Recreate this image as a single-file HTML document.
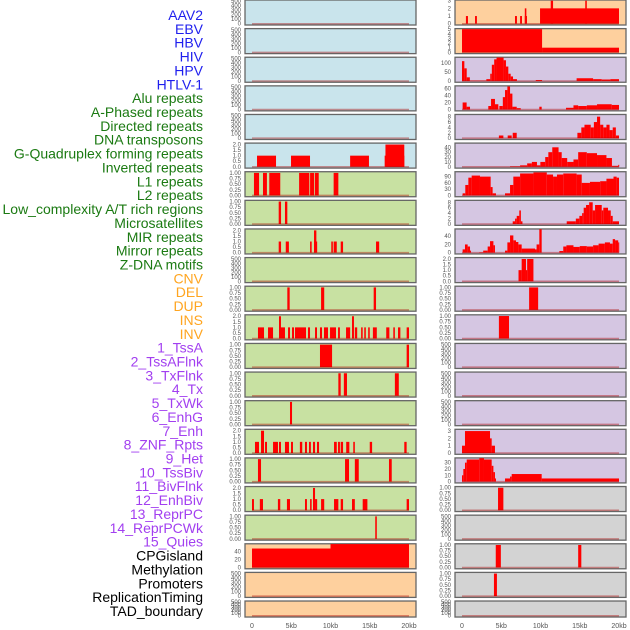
<!DOCTYPE html>
<html><head><meta charset="utf-8"><style>
html,body{margin:0;padding:0;background:#fff;}
svg{display:block;font-family:"Liberation Sans",sans-serif;}
</style></head><body>
<svg id="chart" width="630" height="630" viewBox="0 0 630 630" xmlns="http://www.w3.org/2000/svg"></svg>
<script>
const labels=["AAV2","EBV","HBV","HIV","HPV","HTLV-1","Alu repeats","A-Phased repeats","Directed repeats","DNA transposons","G-Quadruplex forming repeats","Inverted repeats","L1 repeats","L2 repeats","Low_complexity A/T rich regions","Microsatellites","MIR repeats","Mirror repeats","Z-DNA motifs","CNV","DEL","DUP","INS","INV","1_TssA","2_TssAFlnk","3_TxFlnk","4_Tx","5_TxWk","6_EnhG","7_Enh","8_ZNF_Rpts","9_Het","10_TssBiv","11_BivFlnk","12_EnhBiv","13_ReprPC","14_ReprPCWk","15_Quies","CPGisland","Methylation","Promoters","ReplicationTiming","TAD_boundary"];
const labelGroups=[6,13,5,15,5];
const groupColors=["#1f1fee","#1b7a12","#ffa520","#a23ff0","#000000"];
const xTicks=[0,5,10,15,20];
const xTickLabels=["0","5kb","10kb","15kb","20kb"];
const TK500=["0","100","200","300","400","500"];
const TK1=["0.00","0.25","0.50","0.75","1.00"];
const TK2=["0.0","0.5","1.0","1.5","2.0"];
// segments [startKb,endKb,value]
const segL5=[[0.64,3.06,1],[4.97,7.39,1],[12.5,14.9,1],[16.9,19.4,1],[17.0,19.4,2]];
const segL6=[[0.25,0.9,1],[1.4,1.9,1],[2.2,3.6,1],[6.0,7.3,1],[7.4,7.9,1],[8.0,8.5,1],[10.4,11.0,1]];
const segL7=[[3.4,3.7,1],[4.2,4.5,1]];
const segL8=[[3.4,3.7,1],[4.3,4.7,1],[7.4,7.6,1],[7.9,8.3,1],[7.9,8.2,2],[10.1,10.3,1],[10.4,10.8,1],[11.3,11.6,1],[15.8,16.2,1]];
const segL10=[[4.5,4.8,1],[8.8,9.2,1],[15.5,15.8,1]];
const segL11=[[0.76,1.53,1],[2.04,2.68,1],[3.44,4.2,1],[3.44,3.69,2],[4.59,4.84,1],[5.1,5.35,1],[5.48,6.88,1],[7.13,7.39,1],[8.03,8.28,1],[8.66,8.92,1],[9.17,9.68,1],[9.94,10.7,1],[10.96,11.2,1],[11.98,12.5,1],[12.74,12.99,2],[13.1,13.4,1],[13.9,14.1,1],[14.3,14.5,1],[14.8,15.0,1],[15.4,15.9,1],[17.1,17.5,1],[18.0,18.2,1],[18.6,18.9,1],[19.7,20,1]];
const segL12=[[8.66,10.2,1],[19.7,20,1]];
const segL13=[[11.0,11.3,1],[11.7,12.1,1],[18.2,18.7,1]];
const segL14=[[4.84,5.1,1]];
const segL15=[[0.38,0.89,1],[1.15,1.53,2],[1.66,1.91,1],[2.68,3.31,1],[3.44,3.69,1],[4.2,4.71,1],[4.97,5.22,1],[6.1,6.4,1],[6.75,7.0,1],[7.26,7.5,1],[7.77,8.03,1],[8.28,8.54,1],[10.45,10.8,1],[10.96,11.2,1],[11.3,11.6,1],[12.0,12.4,1],[12.9,13.1,1],[15.0,15.3,1],[19.4,19.7,1]];
const segL16=[[0.76,1.15,1],[11.85,12.36,1],[13.1,13.6,1],[17.45,17.8,1]];
const segL17=[[0,0.25,1],[1.0,1.4,1],[3.3,3.6,1],[4.45,4.84,1],[6.75,7.0,1],[7.4,7.6,1],[7.77,8.03,2],[8.03,8.3,1],[8.8,9.2,1],[10.45,11.0,1],[11.3,11.6,1],[12.74,13.1,1],[14.1,14.7,1],[19.7,20,1]];
const segL18=[[15.7,15.9,1]];
const segL19=[[0,10,47],[10,20,58]];
const segR0=[[0.5,0.76,1],[1.66,1.9,1],[6.75,7.0,1],[7.4,7.64,1],[8.0,8.28,1],[8.0,8.2,2],[9.94,20,2],[11.3,11.6,3],[15.7,15.9,3]];
const segR1=[[0,10.2,5],[10.2,20,1]];
const segR2=[[0,0.3,110],[0.3,0.6,70],[0.6,1.0,20],[1.0,3.1,2],[3.1,3.6,10],[3.6,3.8,40],[3.8,4.1,90],[4.1,4.4,120],[4.4,5.3,130],[5.3,5.6,115],[5.6,5.9,80],[5.9,6.2,40],[6.2,6.5,25],[6.5,7.0,10],[9.4,10.2,5],[14.6,16.7,15],[16.7,17.8,10],[17.8,18.9,8],[18.9,20,10]];
const segR3=[[0.08,0.59,20],[0.59,1.02,8],[3.35,3.7,10],[3.7,4.2,30],[4.2,4.63,15],[4.76,5.2,10],[5.2,5.48,35],[5.48,5.78,55],[5.78,6.12,65],[6.12,6.42,45],[6.42,6.97,8],[6.97,7.48,4],[9.85,10.15,8],[13.25,14.2,5],[14.2,14.8,12],[14.8,15.9,10],[15.9,17.2,12],[17.2,19.07,15],[19.07,20,13]];
const segR4=[[4.7,5.27,1],[5.82,6.33,1],[6.46,6.97,2],[14.7,15.2,2],[15.2,15.6,4],[15.6,16.4,5],[16.4,16.8,4],[16.8,17.2,6],[17.2,17.6,8],[17.6,18.0,5],[18.0,18.4,4],[18.4,18.8,5],[18.8,19.2,3],[19.2,19.6,4],[19.6,20,1]];
const segR5=[[6.12,7.4,1],[7.4,8.3,3],[8.3,8.9,7],[8.9,9.55,10],[9.55,9.98,3],[9.98,10.6,10],[10.6,11.0,20],[11.0,11.5,30],[11.5,12.3,40],[12.3,12.7,30],[12.7,13.4,18],[13.4,14.2,10],[14.2,14.8,15],[14.8,15.9,30],[15.9,17.2,28],[17.2,18.4,24],[18.4,19.1,18],[19.1,19.9,2],[19.9,20,4]];
const segR6=[[0.08,0.42,10],[0.42,0.81,50],[0.81,1.23,85],[1.23,2.29,95],[2.29,3.65,90],[3.65,3.9,40],[3.9,4.33,10],[5.48,6.12,10],[6.12,6.54,50],[6.54,7.4,90],[7.4,9.1,105],[9.1,10.8,110],[10.8,11.6,100],[11.6,12.1,90],[12.1,12.9,100],[12.9,14.6,105],[14.6,15.25,100],[15.25,16.3,60],[16.3,17.6,65],[17.6,18.4,68],[18.4,19.3,80],[19.3,19.7,90],[19.7,20,85]];
const segR7=[[6.46,6.76,1],[6.76,6.97,2],[6.97,7.3,3],[7.3,7.5,5],[7.5,7.7,1],[13.34,14.5,1],[14.5,14.95,2],[14.95,15.3,3],[15.3,15.5,4],[15.5,15.8,6],[15.8,16.2,7],[16.2,16.65,8],[16.65,16.95,5],[16.95,17.8,7],[17.8,18.0,5],[18.0,18.6,6],[18.6,18.95,5],[18.95,19.2,3],[19.2,20,1]];
const segR8=[[0.08,0.38,8],[0.38,0.72,20],[0.72,1.02,15],[1.02,1.15,5],[2.2,2.7,1],[2.7,3.27,5],[3.27,3.57,15],[3.57,4.0,28],[4.0,4.2,18],[5.48,5.78,5],[5.78,6.12,25],[6.12,6.54,42],[6.54,6.88,30],[6.88,7.18,26],[7.18,7.6,20],[7.6,9.3,10],[9.3,9.5,8],[9.5,9.85,20],[9.85,10.15,57],[12.4,12.9,4],[12.9,13.3,15],[13.3,14.2,18],[14.2,15.0,14],[15.0,15.9,16],[15.9,16.7,15],[16.7,17.4,18],[17.4,18.2,22],[18.2,18.85,25],[18.85,19.2,22],[19.2,19.5,33],[19.5,19.9,30],[19.9,20,25]];
const segR9=[[7.2,7.6,1],[7.6,8.15,2],[8.15,8.3,1],[8.3,9.1,2]];
const segR10=[[8.55,9.7,1]];
const segR11=[[4.7,5.99,1]];
const segR15=[[0,0.38,1],[0.38,3.57,3],[3.57,3.78,2],[3.78,4.2,1]];
const segR16=[[0,0.17,10],[0.17,0.38,20],[0.38,0.6,30],[0.6,2.2,35],[2.2,2.8,37],[2.8,3.78,35],[3.78,4.0,25],[4.0,4.2,15],[4.2,4.33,5],[5.48,6.12,5],[6.12,6.33,8],[6.33,10.15,12],[10.15,20,5]];
const segR17=[[4.59,5.27,1]];
const segR19=[[4.3,4.95,1],[14.8,15.2,1]];
const segR20=[[4.07,4.45,1]];

const BG={b:"#c9e4ec",g:"#c8e1a2",o:"#fed09e",p:"#d5c6e2",k:"#d3d3d3"};
// [col,row,bg,ticks,ymax,segments]
const panels=[
[0,0,"b",TK500,520,[]],[0,1,"b",TK500,520,[]],[0,2,"b",TK500,520,[]],[0,3,"b",TK500,520,[]],[0,4,"b",TK500,520,[]],
[0,5,"b",TK2,2.1,segL5],[0,6,"g",TK1,1.04,segL6],[0,7,"g",TK1,1.04,segL7],[0,8,"g",TK2,2.1,segL8],[0,9,"g",TK500,520,[]],
[0,10,"g",TK1,1.04,segL10],[0,11,"g",TK2,2.1,segL11],[0,12,"g",TK1,1.04,segL12],[0,13,"g",TK1,1.04,segL13],[0,14,"g",TK1,1.04,segL14],
[0,15,"g",TK2,2.1,segL15],[0,16,"g",TK1,1.04,segL16],[0,17,"g",TK2,2.1,segL17],[0,18,"g",TK1,1.04,segL18],
[0,19,"o",["0","20","40"],58,segL19],[0,20,"o",TK500,520,[]],[0,21,"o",TK500,520,[]],
[1,0,"o",["0","1","2","3"],3.05,segR0],[1,1,"o",["0","1","2","3","4","5"],5.05,segR1],
[1,2,"p",["0","50","100"],130,segR2],[1,3,"p",["0","20","40","60"],66,segR3],[1,4,"p",["0","2","4","6","8"],8.7,segR4],
[1,5,"p",["0","10","20","30","40"],48,segR5],[1,6,"p",["0","30","60","90"],112,segR6],[1,7,"p",["0","2","4","6","8"],8.6,segR7],
[1,8,"p",["0","20","40"],57,segR8],[1,9,"p",TK2,2.1,segR9],[1,10,"p",TK1,1.04,segR10],[1,11,"p",TK1,1.04,segR11],
[1,12,"p",TK500,520,[]],[1,13,"p",TK500,520,[]],[1,14,"p",TK500,520,[]],
[1,15,"p",["0","1","2","3"],3.2,segR15],[1,16,"p",["0","10","20","30"],37,segR16],
[1,17,"k",TK1,1.04,segR17],[1,18,"k",TK500,520,[]],[1,19,"k",TK1,1.04,segR19],[1,20,"k",TK1,1.04,segR20],[1,21,"k",TK500,520,[]]
];

const svg=document.getElementById('chart');
const NS="http://www.w3.org/2000/svg";
function mk(tag,attrs,parent){const e=document.createElementNS(NS,tag);for(const k in attrs)e.setAttribute(k,attrs[k]);(parent||svg).appendChild(e);return e;}
const colLeft=[245,455], colW=171, x0=[252,462], xSpan=157;
function xs(col,kb){return x0[col]+kb/20*xSpan;}
function rowTop(r){return r*28.62;}
function rowH(r){return r===21?16:25;}

let li=0;
labelGroups.forEach((n,g)=>{for(let i=0;i<n;i++){const t=mk('text',{x:203,y:15+li*13.86+5,'text-anchor':'end','font-size':'14',fill:groupColors[g]});t.textContent=labels[li];


li++;}});

panels.forEach((p,idx)=>{
  const [col,row,bg,ticks,ymax,segs]=p;
  const top=rowTop(row), h=rowH(row), L=colLeft[col];
  const base=top+h-1.3, inner=h-1.6;
  const ys=v=>base-Math.min(v,ymax)/ymax*inner;
  const g=mk('g',{});
  
  
  mk('rect',{x:L,y:top,width:colW,height:h,fill:BG[bg],stroke:'#666','stroke-width':1.3},g);
  segs.forEach(s=>{
    const r=mk('rect',{x:xs(col,s[0]),y:ys(s[2]),width:Math.max(xs(col,s[1])-xs(col,s[0]),1),height:base-ys(s[2]),fill:'#ff0000'},g);
    
    
  });
  mk('line',{x1:xs(col,0),x2:xs(col,20),y1:base,y2:base,stroke:'rgba(170,0,0,0.4)','stroke-width':1.5},g);
  ticks.forEach(tl=>{
    const v=parseFloat(tl);
    const t=mk('text',{x:L-4,y:ys(v)+2,'text-anchor':'end','font-size':'6',fill:'#555'},g);
    t.textContent=tl;
    
    
  });
});
[0,1].forEach(col=>{
  xTicks.forEach((v,i)=>{
    const t=mk('text',{x:xs(col,v),y:628,'text-anchor':'middle','font-size':'7',fill:'#555'});
    t.textContent=xTickLabels[i];
    
    
  });
});
</script>
</body></html>
